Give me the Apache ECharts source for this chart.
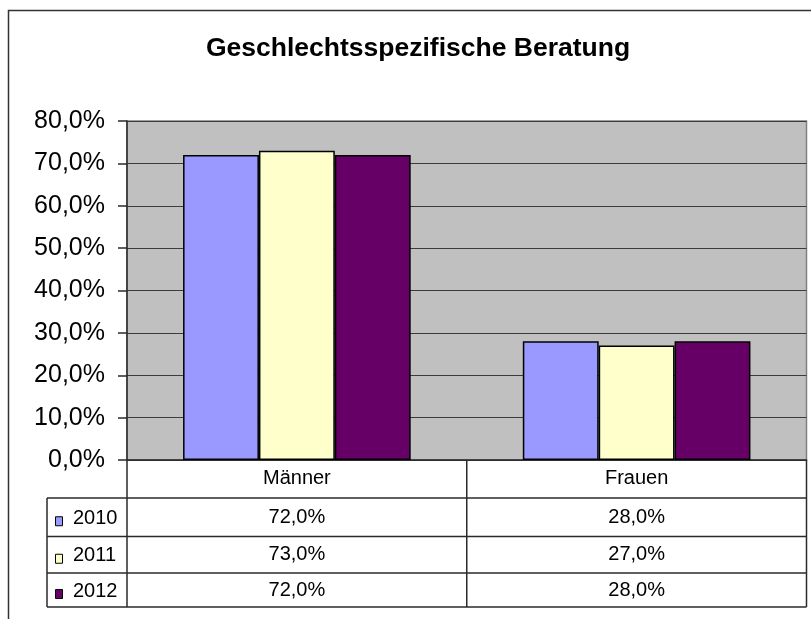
<!DOCTYPE html>
<html><head><meta charset="utf-8">
<script src="https://cdn.jsdelivr.net/npm/echarts@6/dist/echarts.min.js"></script>
<style>html,body{margin:0;padding:0;background:#fff}#c{width:811px;height:619px}</style>
</head><body><div id="c"></div>
<script>
// ---- data ----
const titleText = 'Geschlechtsspezifische Beratung';
const categories = ['Männer', 'Frauen'];
const seriesNames = ['2010', '2011', '2012'];
const values2010 = [0.72, 0.28];
const values2011 = [0.73, 0.27];
const values2012 = [0.72, 0.28];
const yMin = 0, yMax = 0.8, yInterval = 0.1;

// ---- styles / layout ----
const colors = ['#9999FF', '#FFFFCC', '#660066'];
const FONT = "'Liberation Sans', Arial, sans-serif";
const fmt = v => (v * 100).toFixed(1).replace('.', ',') + '%';
const seriesValues = [values2010, values2011, values2012];

const gridL = 127, gridT = 121, gridR = 806.5, gridB = 460;
const tableL = 47;
const rowLines = [460, 498, 536.5, 573, 607];
const lineColor = '#2a2a2a';

const chart = echarts.init(document.getElementById('c'), null, {renderer: 'canvas'});

const baseOption = {
  animation: false,
  backgroundColor: '#ffffff',
  title: {
    text: titleText,
    left: 418, textAlign: 'center', top: 35, padding: 0,
    textStyle: {fontFamily: FONT, fontSize: 26.5, fontWeight: 'bold', color: '#000'}
  },
  grid: {
    left: gridL, top: gridT, right: 811 - gridR, bottom: 619 - gridB,
    show: true, backgroundColor: '#C0C0C0', borderColor: '#808080', borderWidth: 1.5,
    containLabel: false
  },
  xAxis: {
    type: 'category', data: categories,
    axisLine: {show: true, lineStyle: {color: lineColor, width: 1.5}},
    axisTick: {show: false}, axisLabel: {show: false}, splitLine: {show: false}
  },
  yAxis: {
    type: 'value', min: yMin, max: yMax, interval: yInterval,
    axisLine: {show: true, lineStyle: {color: lineColor, width: 1.5}},
    axisTick: {show: true, length: 9, lineStyle: {color: lineColor, width: 1.5}},
    axisLabel: {formatter: fmt, fontFamily: FONT, fontSize: 25, color: '#000', margin: 22},
    splitLine: {show: true, lineStyle: {color: '#3c3c3c', width: 1.2}}
  },
  series: seriesNames.map((n, i) => ({
    name: n, type: 'bar', data: seriesValues[i],
    barGap: '0%', barCategoryGap: '33%',
    itemStyle: {color: colors[i], borderColor: '#000', borderWidth: 1.5}
  }))
};
chart.setOption(baseOption);

// ---- data table below the plot ----
const centers = categories.map((c, i) => chart.convertToPixel({xAxisIndex: 0}, i));
const step = centers.length > 1 ? centers[1] - centers[0] : (gridR - gridL);
const bounds = [gridL];
for (let i = 0; i < categories.length; i++) bounds.push(centers[i] + step / 2);

const g = [];
const line = (x1, y1, x2, y2) => g.push({type: 'line', shape: {x1, y1, x2, y2}, style: {stroke: lineColor, lineWidth: 1.5}, z: 100});
const txt = (x, y, t, align) => g.push({type: 'text', x, y, style: {text: t, fill: '#000', font: '20px ' + FONT, textAlign: align || 'center', textVerticalAlign: 'middle'}, z: 101});

// outer chart border
g.push({type: 'rect', shape: {x: 8.5, y: 10.5, width: 900, height: 800}, style: {fill: 'none', stroke: '#333', lineWidth: 1.5}, z: 90});

// horizontal rules
for (let r = 1; r < rowLines.length; r++) line(tableL, rowLines[r], gridR, rowLines[r]);
// verticals
line(tableL, rowLines[1], tableL, rowLines[rowLines.length - 1]);
bounds.forEach(x => line(x, rowLines[0], x, rowLines[rowLines.length - 1]));
// header
categories.forEach((c, i) => txt(centers[i], (rowLines[0] + rowLines[1]) / 2 - 1, c));
// rows
seriesNames.forEach((n, r) => {
  const yc = (rowLines[r + 1] + rowLines[r + 2]) / 2;
  g.push({type: 'rect', shape: {x: 55.5, y: yc - 0.5, width: 7, height: 9}, style: {fill: colors[r], stroke: '#000', lineWidth: 1}, z: 101});
  txt(73, yc + 1, n, 'left');
  seriesValues[r].forEach((v, i) => txt(centers[i], yc, fmt(v)));
});

chart.setOption({graphic: {elements: g}});
</script>
</body></html>
